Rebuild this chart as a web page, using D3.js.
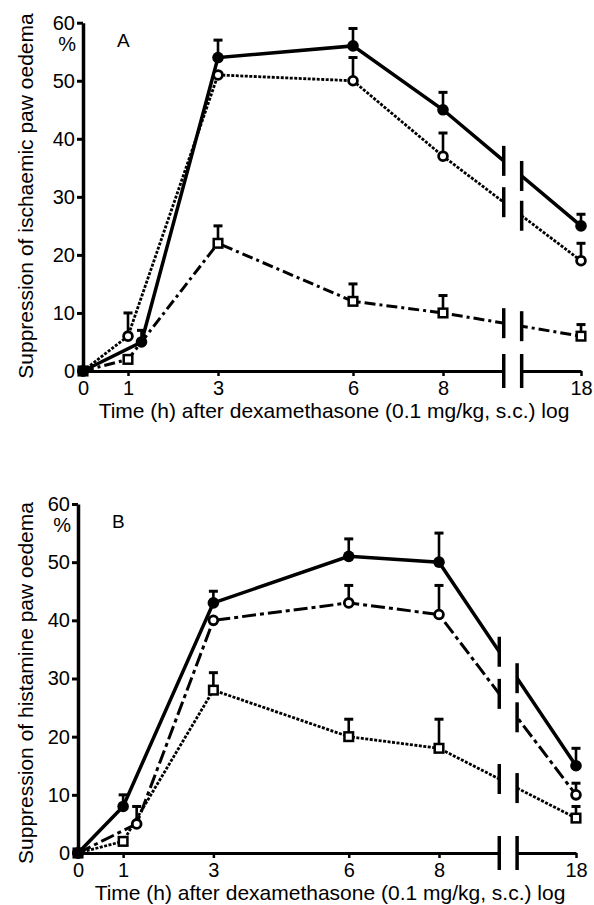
<!DOCTYPE html>
<html>
<head>
<meta charset="utf-8">
<script src="https://cdn.jsdelivr.net/npm/d3@7"></script>
<style>
  body { margin: 0; background: #fff; }
  text { font-family: "Liberation Sans", Arial, Helvetica, sans-serif; fill: #000; }
</style>
</head>
<body>
<div id="chart"></div>
<script>
// ticks
const xTicks = [0, 1, 3, 6, 8, 18];
const yTicks = [0, 10, 20, 30, 40, 50, 60];
const breakAt = [12.4, 13.7]; // axis break between 8 and 18 h

// panel A - ischaemic paw oedema
const ischFilledX = [0, 1.3, 3, 6, 8, 18];
const ischFilledY = [0, 5, 54, 56, 45, 25];
const ischFilledErr = [0, 2, 3, 3, 3, 2];
const ischOpenX = [0, 1, 3, 6, 8, 18];
const ischOpenY = [0, 6, 51, 50, 37, 19];
const ischOpenErr = [0, 4, 0, 4, 4, 3];
const ischSquareX = [0, 1, 3, 6, 8, 18];
const ischSquareY = [0, 2, 22, 12, 10, 6];
const ischSquareErr = [0, 0, 3, 3, 3, 2];

// panel B - histamine paw oedema
const histFilledX = [0, 1, 3, 6, 8, 18];
const histFilledY = [0, 8, 43, 51, 50, 15];
const histFilledErr = [0, 2, 2, 3, 5, 3];
const histOpenX = [0, 1.3, 3, 6, 8, 18];
const histOpenY = [0, 5, 40, 43, 41, 10];
const histOpenErr = [0, 3, 0, 3, 5, 2];
const histSquareX = [0, 1, 3, 6, 8, 18];
const histSquareY = [0, 2, 28, 20, 18, 6];
const histSquareErr = [0, 0, 3, 3, 5, 2];

const svg = d3.select("#chart").append("svg")
    .attr("width", 594)
    .attr("height", 905);

const xTitle = "Time (h) after dexamethasone (0.1 mg/kg, s.c.) log";

function makeSeries(xs, ys, errs, marker, dash, width) {
    return { pts: xs.map((x, i) => ({ x: x, y: ys[i], e: errs[i] })), marker: marker, dash: dash, width: width };
}

function drawPanel(p) {
    const g = svg.append("g");
    const x = d3.scaleLinear().domain([0, 8, 18]).range(p.xRange);
    const y = d3.scaleLinear().domain([0, 60]).range(p.yRange);

    // lines
    const line = d3.line().x(d => x(d.x)).y(d => y(d.y));
    p.series.forEach(s => {
        g.append("path")
            .datum(s.pts)
            .attr("d", line)
            .attr("fill", "none")
            .attr("stroke", "#000")
            .attr("stroke-width", s.width)
            .attr("stroke-dasharray", s.dash);
    });

    // axes
    const xAxis = g.append("g")
        .attr("transform", `translate(0,${y(0)})`)
        .call(d3.axisBottom(x).tickValues(xTicks).tickSize(5).tickPadding(5).tickSizeOuter(0));
    xAxis.select(".domain").attr("stroke-width", 3);
    xAxis.selectAll(".tick line").attr("stroke-width", 2.5);
    xAxis.selectAll("text").style("font-size", "20px").attr("fill", "#000");

    const yAxis = g.append("g")
        .attr("transform", `translate(${x(0)},0)`)
        .call(d3.axisLeft(y).tickValues(yTicks).tickSize(6).tickPadding(2).tickSizeOuter(0));
    yAxis.select(".domain").attr("stroke-width", 3.5);
    yAxis.selectAll(".tick line").attr("stroke-width", 3);
    yAxis.selectAll("text").style("font-size", "20px").attr("fill", "#000");

    // break: white gap, then marks
    const bx0 = x(breakAt[0]), bx1 = x(breakAt[1]);
    g.append("rect")
        .attr("x", bx0 + 1).attr("y", y(60))
        .attr("width", bx1 - bx0 - 2).attr("height", y(0) - y(60) + 20)
        .attr("fill", "#fff");

    const marks = [];
    p.series.forEach(s => {
        const a = s.pts[4], b = s.pts[5];
        breakAt.forEach(t => {
            const v = a.y + (b.y - a.y) * (t - a.x) / (b.x - a.x);
            marks.push({ t: t, cy: y(v), h: 15 });
        });
    });
    breakAt.forEach(t => marks.push({ t: t, cy: y(0), h: 17 }));
    g.selectAll(".brk").data(marks).enter().append("line")
        .attr("x1", d => x(d.t)).attr("x2", d => x(d.t))
        .attr("y1", d => d.cy - d.h).attr("y2", d => d.cy + d.h)
        .attr("stroke", "#000").attr("stroke-width", 3.5);

    // error bars + markers
    p.series.forEach(s => {
        const eb = s.pts.filter(d => d.e > 0);
        g.selectAll(null).data(eb).enter().append("line")
            .attr("x1", d => x(d.x)).attr("x2", d => x(d.x))
            .attr("y1", d => y(d.y)).attr("y2", d => y(d.y + d.e))
            .attr("stroke", "#000").attr("stroke-width", 2.6);
        g.selectAll(null).data(eb).enter().append("line")
            .attr("x1", d => x(d.x) - 4.5).attr("x2", d => x(d.x) + 4.5)
            .attr("y1", d => y(d.y + d.e)).attr("y2", d => y(d.y + d.e))
            .attr("stroke", "#000").attr("stroke-width", 3);
    });
    p.series.forEach(s => {
        if (s.marker === "filled") {
            g.selectAll(null).data(s.pts).enter().append("circle")
                .attr("cx", d => x(d.x)).attr("cy", d => y(d.y)).attr("r", 5.8)
                .attr("fill", "#000");
        } else if (s.marker === "open") {
            g.selectAll(null).data(s.pts).enter().append("circle")
                .attr("cx", d => x(d.x)).attr("cy", d => y(d.y)).attr("r", 4.4)
                .attr("fill", "#fff").attr("stroke", "#000").attr("stroke-width", 2.8);
        } else {
            g.selectAll(null).data(s.pts).enter().append("rect")
                .attr("x", d => x(d.x) - 4.3).attr("y", d => y(d.y) - 4.3)
                .attr("width", 8.6).attr("height", 8.6)
                .attr("fill", "#fff").attr("stroke", "#000").attr("stroke-width", 2.5);
        }
    });

    // texts
    g.append("text")
        .attr("x", x(0) - 7).attr("y", y(60) + 28)
        .attr("text-anchor", "end")
        .style("font-size", "20px")
        .text("%");
    g.append("text")
        .attr("x", p.letterX).attr("y", y(60) + 24)
        .style("font-size", "19px")
        .text(p.letter);
    g.append("text")
        .attr("x", p.titleX).attr("y", y(0) + 47)
        .attr("text-anchor", "middle")
        .style("font-size", "21px")
        .text(xTitle);
    g.append("text")
        .attr("transform", `translate(33,${p.yTitleY}) rotate(-90)`)
        .attr("text-anchor", "middle")
        .style("font-size", "21px")
        .text(p.yTitle);
}

drawPanel({
    xRange: [83, 443, 581],
    yRange: [371, 22.7],
    letter: "A",
    letterX: 117,
    titleX: 334,
    yTitleY: 196,
    yTitle: "Suppression of ischaemic paw oedema",
    series: [
        makeSeries(ischSquareX, ischSquareY, ischSquareErr, "square", "11,4,3,4", 3),
        makeSeries(ischOpenX, ischOpenY, ischOpenErr, "open", "3,1.5", 2.8),
        makeSeries(ischFilledX, ischFilledY, ischFilledErr, "filled", null, 3.5)
    ]
});

drawPanel({
    xRange: [78, 439, 576],
    yRange: [853, 504],
    letter: "B",
    letterX: 112,
    titleX: 330,
    yTitleY: 683,
    yTitle: "Suppression of histamine paw oedema",
    series: [
        makeSeries(histSquareX, histSquareY, histSquareErr, "square", "3,1.5", 2.8),
        makeSeries(histOpenX, histOpenY, histOpenErr, "open", "14,4,4,4", 3),
        makeSeries(histFilledX, histFilledY, histFilledErr, "filled", null, 3.5)
    ]
});
</script>
</body>
</html>
